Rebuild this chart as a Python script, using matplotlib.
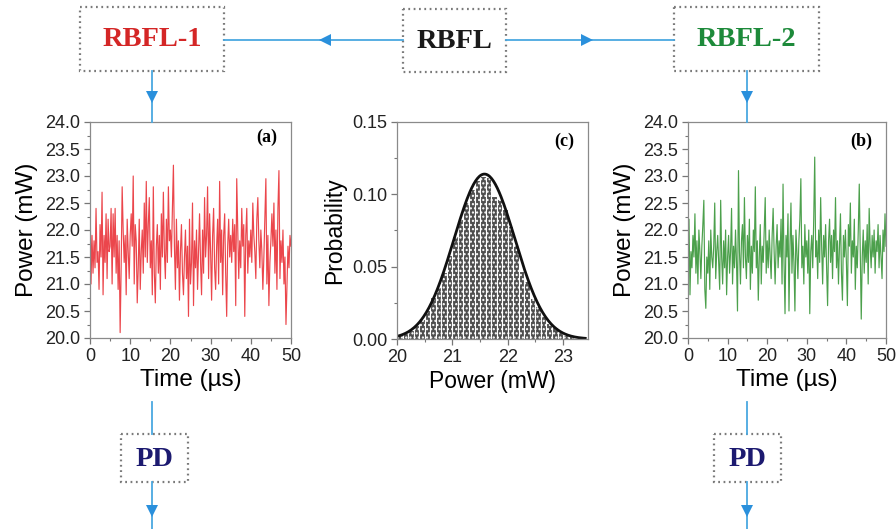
import numpy as np
import matplotlib
matplotlib.use("Agg")
import matplotlib.pyplot as plt
from matplotlib.patches import FancyBboxPatch
from matplotlib.ticker import MultipleLocator, FormatStrFormatter

plt.rcParams['font.family'] = ['Liberation Sans', 'DejaVu Sans']

# time axis, 0.25 us steps
time_us = np.arange(0, 50.01, 0.25)

# RBFL-1 output power (mW), read row by row (5 us per row)
power_a = [
    22.8, 21.0, 21.9, 21.2, 21.8, 21.3, 22.4, 21.4, 21.6, 20.9, 22.1, 21.5, 22.7, 20.8, 21.9, 21.4, 22.3, 21.1, 22.2, 21.6,
    21.7, 22.4, 21.0, 22.3, 21.5, 22.4, 21.2, 21.9, 20.9, 21.8, 20.1, 21.3, 22.8, 22.0, 21.4, 21.9, 20.8, 22.2, 21.6, 21.1,
    21.9, 22.3, 21.7, 23.0, 21.0, 22.1, 21.8, 20.65, 21.3, 22.2, 20.9, 21.6, 22.0, 21.2, 22.5, 21.5, 22.9, 21.4, 22.1, 22.6,
    21.3, 21.8, 20.8, 22.8, 21.2, 20.65, 21.7, 22.1, 21.2, 21.9, 20.9, 22.3, 21.5, 22.7, 21.6, 21.1, 22.2, 21.4, 22.8, 21.8,
    22.0, 21.5, 22.4, 23.2, 21.7, 20.9, 22.2, 21.3, 21.8, 20.7, 21.6, 22.1, 21.2, 20.8, 21.5, 22.0, 21.1, 21.7, 20.4, 22.2,
    21.0, 21.4, 22.5, 20.6, 21.8, 21.3, 22.0, 20.9, 21.6, 22.3, 21.4, 20.8, 22.0, 21.2, 22.6, 21.5, 21.9, 22.8, 21.1, 22.3,
    21.6, 20.7, 21.9, 22.4, 21.3, 20.9, 21.7, 22.2, 21.0, 22.9, 21.4, 22.0, 20.8, 21.9, 22.3, 21.2, 20.4, 21.7, 22.2, 21.5,
    21.9, 21.4, 22.2, 21.6, 22.1, 20.6, 22.95, 22.0, 21.1, 21.8, 21.3, 22.4, 21.7, 22.1, 20.4, 21.9, 22.4, 21.2, 21.8, 21.5,
    22.0, 21.4, 22.5, 21.9, 21.6, 21.1, 22.2, 22.6, 21.8, 21.3, 22.0, 21.6, 20.9, 21.5, 22.2, 22.95, 21.0, 21.9, 20.6, 21.4,
    21.8, 22.3, 21.7, 22.5, 21.2, 22.0, 20.9, 22.4, 23.1, 21.1, 21.8, 21.4, 22.0, 21.0, 21.5, 20.25, 21.0, 21.7, 21.3, 21.9,
    21.7,
]

# RBFL-2 output power (mW)
power_b = [
    21.4, 22.2, 20.8, 21.6, 21.3, 21.9, 21.5, 22.3, 21.2, 21.8, 21.0, 22.0, 21.6, 21.1, 21.7, 22.1, 22.55, 20.9, 20.55, 21.5,
    21.2, 21.8, 20.9, 22.0, 21.5, 21.3, 21.7, 22.5, 21.1, 21.6, 21.9, 21.4, 20.9, 22.55, 21.5, 21.0, 21.8, 21.3, 22.0, 20.8,
    21.5, 21.9, 21.2, 21.6, 22.4, 21.0, 21.7, 21.3, 22.0, 21.4, 20.5, 23.1, 21.6, 21.0, 21.8, 22.1, 21.3, 22.6, 21.5, 21.1,
    21.9, 21.4, 22.2, 20.9, 21.7, 21.2, 22.0, 21.6, 22.8, 21.3, 21.8, 20.7, 21.5, 22.1, 21.0, 21.7, 21.4, 22.0, 22.6, 21.2,
    21.8, 21.3, 22.0, 21.5, 21.1, 21.9, 22.4, 21.6, 21.0, 21.7, 22.1, 21.3, 21.8, 21.5, 22.2, 21.0, 22.85, 21.4, 20.45, 21.9,
    21.5, 22.3, 20.5, 21.7, 22.5, 21.2, 21.9, 21.4, 20.5, 22.0, 21.6, 21.1, 21.8, 22.2, 22.95, 21.3, 21.7, 21.0, 22.1, 21.5,
    21.8, 21.2, 22.0, 20.45, 21.6, 21.9, 21.3, 22.2, 23.35, 21.5, 21.8, 21.1, 22.0, 21.4, 22.6, 21.7, 21.0, 21.9, 21.5, 22.1,
    21.3, 20.6, 21.8, 22.2, 21.4, 21.9, 21.1, 22.0, 21.6, 22.6, 21.3, 21.8, 21.0, 21.7, 22.3, 21.2, 20.7, 21.9, 21.5, 22.0,
    21.4, 20.6, 22.1, 21.7, 22.5, 21.2, 21.8, 21.5, 22.2, 20.9, 21.7, 21.3, 22.0, 22.85, 21.6, 20.35, 21.5, 22.0, 21.2, 21.8,
    21.4, 22.1, 21.0, 22.4, 21.7, 21.3, 21.9, 21.5, 22.0, 21.2, 21.8, 21.6, 22.1, 21.3, 21.9, 21.5, 21.1, 22.0, 21.6, 22.3,
    21.7,
]

# histogram of power, bins of 0.1 mW
hist_centers = np.arange(20.05, 23.3, 0.1)
hist_prob = [
    0.003, 0.004, 0.006, 0.010, 0.014, 0.020, 0.029, 0.036, 0.046, 0.058, 0.071, 0.083,
    0.095, 0.104, 0.110, 0.113, 0.112, 0.099, 0.097, 0.090, 0.078, 0.065, 0.047, 0.040,
    0.028, 0.023, 0.016, 0.011, 0.008, 0.005, 0.003, 0.002, 0.001,
]
# gaussian fit: centre, width (sigma), peak height
fit_center, fit_sigma, fit_peak = 21.58, 0.55, 0.114

W, H = 896, 529
fig = plt.figure(figsize=(W / 100, H / 100), dpi=100)

def px_axes(x0, y0, x1, y1):
    return fig.add_axes([x0 / W, 1 - y1 / H, (x1 - x0) / W, (y1 - y0) / H])

def style_axes(ax):
    for s in ax.spines.values():
        s.set_color('#8a8a8a')
        s.set_linewidth(0.9)
    ax.tick_params(which='major', direction='out', length=4, width=0.9, color='#777',
                   labelsize=13, labelcolor='#222', pad=3)
    ax.tick_params(which='minor', direction='out', length=2, width=0.8, color='#777')

serif = ['Liberation Serif', 'DejaVu Serif']

# (a) RBFL-1 trace
ax_a = px_axes(90, 122, 291, 338)
ax_a.plot(time_us, power_a, color='#e8262c', lw=0.85, alpha=0.85)
ax_a.set_xlim(0, 50)
ax_a.set_ylim(20, 24)
ax_a.xaxis.set_major_locator(MultipleLocator(10))
ax_a.xaxis.set_minor_locator(MultipleLocator(5))
ax_a.yaxis.set_major_locator(MultipleLocator(0.5))
ax_a.yaxis.set_minor_locator(MultipleLocator(0.25))
ax_a.yaxis.set_major_formatter(FormatStrFormatter('%.1f'))
ax_a.set_xlabel('Time (µs)', fontsize=17.5, labelpad=3)
ax_a.set_ylabel('Power (mW)', fontsize=17.5, labelpad=5)
ax_a.text(0.93, 0.93, '(a)', transform=ax_a.transAxes, ha='right', va='center',
          family=serif, weight='bold', fontsize=13)
style_axes(ax_a)

# (c) histogram
ax_c = px_axes(397, 122, 588, 339)
ax_c.bar(hist_centers, hist_prob, width=0.1, facecolor='#4e4e4e', edgecolor='white',
         hatch='....', linewidth=0.8)
xf = np.linspace(20.0, 23.4, 200)
ax_c.plot(xf, fit_peak * np.exp(-(xf - fit_center) ** 2 / (2 * fit_sigma ** 2)),
          color='#111', lw=2)
ax_c.set_xlim(20, 23.45)
ax_c.set_ylim(0, 0.15)
ax_c.xaxis.set_major_locator(MultipleLocator(1))
ax_c.xaxis.set_minor_locator(MultipleLocator(0.5))
ax_c.yaxis.set_major_locator(MultipleLocator(0.05))
ax_c.yaxis.set_minor_locator(MultipleLocator(0.025))
ax_c.yaxis.set_major_formatter(FormatStrFormatter('%.2f'))
ax_c.set_xlabel('Power (mW)', fontsize=16.5, labelpad=3)
ax_c.set_ylabel('Probability', fontsize=16.5, labelpad=4)
ax_c.text(0.93, 0.91, '(c)', transform=ax_c.transAxes, ha='right', va='center',
          family=serif, weight='bold', fontsize=13)
style_axes(ax_c)

# (b) RBFL-2 trace
ax_b = px_axes(688, 122, 886, 338)
ax_b.plot(time_us, power_b, color='#2c8f2c', lw=0.85, alpha=0.85)
ax_b.set_xlim(0, 50)
ax_b.set_ylim(20, 24)
ax_b.xaxis.set_major_locator(MultipleLocator(10))
ax_b.xaxis.set_minor_locator(MultipleLocator(5))
ax_b.yaxis.set_major_locator(MultipleLocator(0.5))
ax_b.yaxis.set_minor_locator(MultipleLocator(0.25))
ax_b.yaxis.set_major_formatter(FormatStrFormatter('%.1f'))
ax_b.set_xlabel('Time (µs)', fontsize=17.5, labelpad=3)
ax_b.set_ylabel('Power (mW)', fontsize=17.5, labelpad=5)
ax_b.text(0.93, 0.91, '(b)', transform=ax_b.transAxes, ha='right', va='center',
          family=serif, weight='bold', fontsize=13)
style_axes(ax_b)

# diagram layer in pixel coordinates
ov = fig.add_axes([0, 0, 1, 1], zorder=5)
ov.set_xlim(0, W)
ov.set_ylim(H, 0)
ov.axis('off')
ov.patch.set_alpha(0)

line_c = '#4aa8e0'
head_c = '#2a90dc'

def box(x0, y0, x1, y1, label, color):
    ov.add_patch(FancyBboxPatch((x0, y0), x1 - x0, y1 - y0, boxstyle='square,pad=0',
                                fill=False, edgecolor='#7a7a7a', lw=1.6, linestyle=(0, (0.8, 1.6))))
    ov.text((x0 + x1) / 2, (y0 + y1) / 2 + 1, label, ha='center', va='center',
            family=serif, weight='bold', fontsize=20.5, color=color)

def link(x0, y0, x1, y1, hx, hy, mk):
    ov.plot([x0, x1], [y0, y1], color=line_c, lw=1.3)
    ov.plot([hx], [hy], marker=mk, color=head_c, markersize=9, markeredgewidth=0)

box(80, 7, 224, 71, 'RBFL-1', '#d42626')
box(403, 9, 506, 72, 'RBFL', '#1a1a1a')
box(674, 7, 819, 71, 'RBFL-2', '#1d8a3a')
box(121, 434, 188, 482, 'PD', '#1c1a70')
box(714, 434, 781, 482, 'PD', '#1c1a70')

link(403, 40, 224, 40, 325, 40, '<')
link(506, 40, 674, 40, 587, 40, '>')
link(152, 71, 152, 122, 152, 97, 'v')
link(747, 71, 747, 122, 747, 97, 'v')
link(152, 402, 152, 434, 152, 420, None)
link(747, 402, 747, 434, 747, 420, None)
link(152, 482, 152, 529, 152, 511, 'v')
link(747, 482, 747, 529, 747, 511, 'v')

fig.savefig('out.png', dpi=100)
